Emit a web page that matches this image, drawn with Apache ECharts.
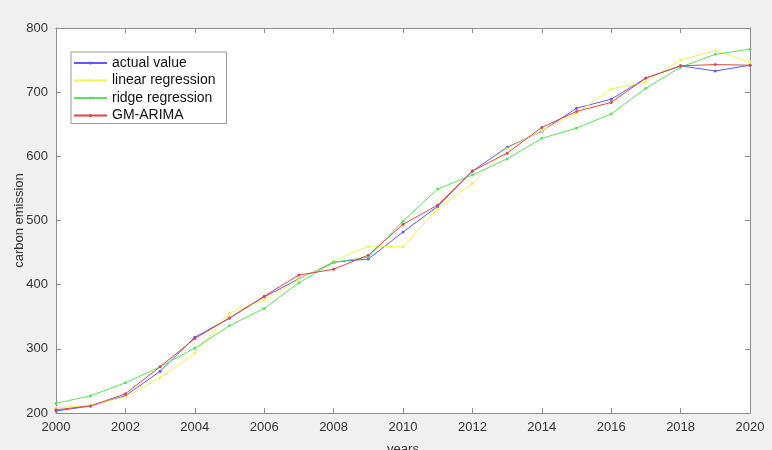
<!DOCTYPE html>
<html>
<head>
<meta charset="utf-8">
<script src="https://cdn.jsdelivr.net/npm/echarts@6/dist/echarts.min.js"></script>
<style>
  html, body { margin: 0; padding: 0; background: #f0f0f0; }
  #chart { width: 772px; height: 450px; }
</style>
</head>
<body>
<div id="chart"></div>
<script>
// 年份与各模型的碳排放数据
const years = [2000, 2001, 2002, 2003, 2004, 2005, 2006, 2007, 2008, 2009, 2010,
  2011, 2012, 2013, 2014, 2015, 2016, 2017, 2018, 2019, 2020]

const actualValue = [203, 211, 227, 265, 318, 348, 381, 409, 435, 440, 482,
  522, 577, 614, 639, 675, 689, 722, 741, 733, 742]
const linearRegression = [208, 212, 225, 255, 293, 356, 376, 408, 437, 460, 459,
  518, 558, 612, 640, 667, 705, 716, 750, 765, 747]
const ridgeRegression = [215, 227, 247, 272, 301, 336, 363, 403, 435, 443, 499,
  549, 571, 596, 628, 644, 666, 706, 739, 759, 767]
const gmArima = [205, 211, 230, 272, 316, 348, 382, 415, 424, 446, 494,
  524, 577, 605, 645, 670, 684, 722, 741, 743, 742]

const xTicks = { min: 2000, max: 2020, interval: 2 }
const yTicks = { min: 200, max: 800, interval: 100 }

const font = 'Arial, "Liberation Sans", sans-serif'
const axisGray = '#8c8c8c'

function pairs(values) {
  return years.map((y, i) => [y, values[i]])
}

function makeSeries(name, values, color) {
  return {
    name,
    type: 'line',
    data: pairs(values),
    xAxisIndex: 0,
    yAxisIndex: 0,
    symbol: 'circle',
    symbolSize: 3,
    itemStyle: { color },
    lineStyle: { color, width: 1 },
    emphasis: { disabled: true },
    animation: false
  }
}

const chart = echarts.init(document.getElementById('chart'))

chart.setOption({
  backgroundColor: '#f0f0f0',
  textStyle: { fontFamily: font },
  grid: {
    left: 56, right: 22, top: 28, bottom: 37,
    outerBoundsMode: 'none',
    containLabel: false,
    show: true, backgroundColor: '#ffffff', borderWidth: 0
  },
  legend: {
    orient: 'vertical',
    left: 71, top: 52,
    padding: [3, 11, 0, 2],
    backgroundColor: '#ffffff',
    borderColor: '#9a9a9a',
    borderWidth: 1,
    itemWidth: 33,
    itemHeight: 4,
    itemGap: 1.5,
    textStyle: { fontSize: 14, lineHeight: 16, color: '#111', fontFamily: font },
    data: ['actual value', 'linear regression', 'ridge regression', 'GM-ARIMA']
  },
  xAxis: [{
    type: 'value',
    ...xTicks,
    name: 'years',
    nameLocation: 'middle',
    nameGap: 30,
    nameMoveOverlap: false,
    nameTextStyle: { fontSize: 13, color: '#333' },
    axisLine: { lineStyle: { color: axisGray } },
    axisTick: { inside: true, length: 5, lineStyle: { color: axisGray } },
    axisLabel: { fontSize: 13, color: '#333', margin: 8, formatter: v => String(v) },
    splitLine: { show: false }
  }, {
    type: 'value',
    position: 'top',
    ...xTicks,
    axisLine: { show: true, lineStyle: { color: axisGray } },
    axisTick: { inside: true, length: 5, lineStyle: { color: axisGray } },
    axisLabel: { show: false },
    splitLine: { show: false }
  }],
  yAxis: [{
    type: 'value',
    ...yTicks,
    name: 'carbon emission',
    nameLocation: 'middle',
    nameGap: 30,
    nameMoveOverlap: false,
    nameTextStyle: { fontSize: 13, color: '#333' },
    axisLine: { show: true, lineStyle: { color: axisGray } },
    axisTick: { show: true, inside: true, length: 5, lineStyle: { color: axisGray } },
    axisLabel: { fontSize: 13, color: '#333', margin: 8 },
    splitLine: { show: false }
  }, {
    type: 'value',
    position: 'right',
    ...yTicks,
    axisLine: { show: true, lineStyle: { color: axisGray } },
    axisTick: { show: true, inside: true, length: 5, lineStyle: { color: axisGray } },
    axisLabel: { show: false },
    splitLine: { show: false }
  }],
  series: [
    makeSeries('actual value', actualValue, '#5a5aff'),
    makeSeries('linear regression', linearRegression, '#f2f25a'),
    makeSeries('ridge regression', ridgeRegression, '#5ee05e'),
    makeSeries('GM-ARIMA', gmArima, '#d84848')
  ]
})
</script>
</body>
</html>
